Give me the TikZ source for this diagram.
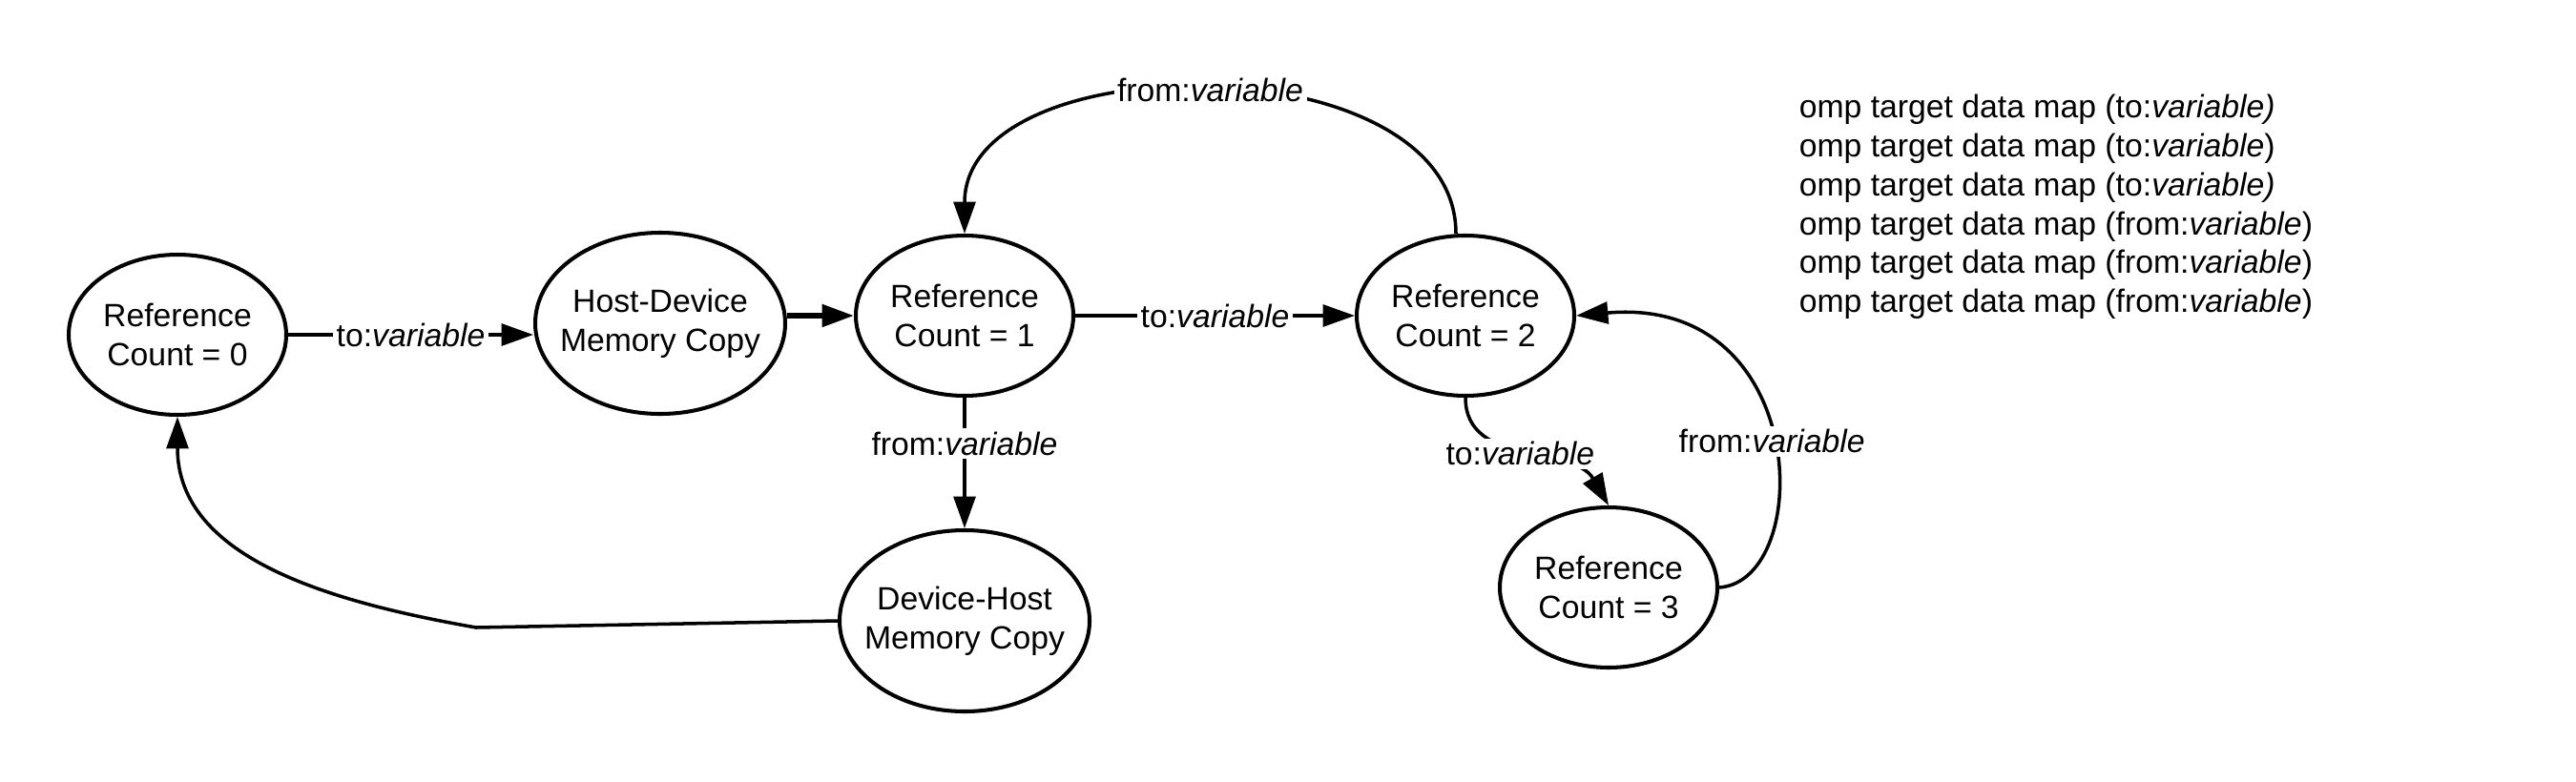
\documentclass[tikz,border=0pt]{standalone}
\usepackage{fontspec}
\setmainfont{Liberation Sans}
\usetikzlibrary{arrows.meta,shapes.geometric}

\begin{document}
\begin{tikzpicture}[font=\fontsize{9.6}{11.6}\selectfont, line width=1pt,
        >={Triangle[length=9.5pt,width=6.5pt]},
        refcount/.style={ellipse, draw, line width=1.15pt, minimum width=2.28cm, minimum height=1.68cm, inner sep=0pt, align=center},
        memcopy/.style={refcount, minimum width=2.62cm, minimum height=1.9cm, inner xsep=-4pt},
        edgelabel/.style={fill=white, inner sep=1pt}]
        \useasboundingbox (0,0) rectangle (27,8.19);

        % Define the vertices
        \node[refcount] (RC0) at (1.86,4.68) {Reference\\Count = 0};
        \node[memcopy] (HD) at (6.92,4.80) {Host-Device\\Memory Copy};
        \node[refcount] (RC1) at (10.11,4.88) {Reference\\Count = 1};
        \node[refcount] (RC2) at (15.36,4.88) {Reference\\Count = 2};
        \node[memcopy] (DH) at (10.11,1.68) {Device-Host\\Memory Copy};
        \node[refcount] (RC3) at (16.86,2.03) {Reference\\Count = 3};
        \coordinate (bend) at (4.99,1.61);

        % Legend
        \node[align=left, anchor=west, inner sep=0pt] (legend) at (18.84,6.02) {omp target data map (to:\textit{variable)}\\
            omp target data map (to:\textit{variable})\\
            omp target data map (to:\textit{variable)}\\
            omp target data map (from:\textit{variable})\\
            omp target data map (from:\textit{variable})\\
            omp target data map (from:\textit{variable})};

        % Define the edges (directed)
        \draw[->] (RC0) -- node[edgelabel] {to:\textit{variable}} (HD.west |- RC0);
        \draw[->, line width=1.6pt] (HD.east |- RC1) -- (RC1);
        \draw[->] (RC1) -- node[edgelabel] {to:\textit{variable}} (RC2);
        \draw[->] (RC1) -- node[edgelabel, pos=0.35] {from:\textit{variable}} (DH);
        \draw[->] (RC2.north) ++(-0.1,0) to[out=90,in=90] node[edgelabel] {from:\textit{variable}} (RC1.north);
        \draw[->] (RC2.south) to[out=-90,in=120] node[edgelabel, pos=0.48] {to:\textit{variable}} (RC3.north);
        \draw[->] (RC3.east) .. controls +(1.0,0.07) and +(2.47,0.22) .. node[edgelabel] {from:\textit{variable}} (RC2.east);
        \draw[->] (DH.west) -- (bend) to[out=170,in=-90] (RC0.south);

    \end{tikzpicture}
\end{document}
